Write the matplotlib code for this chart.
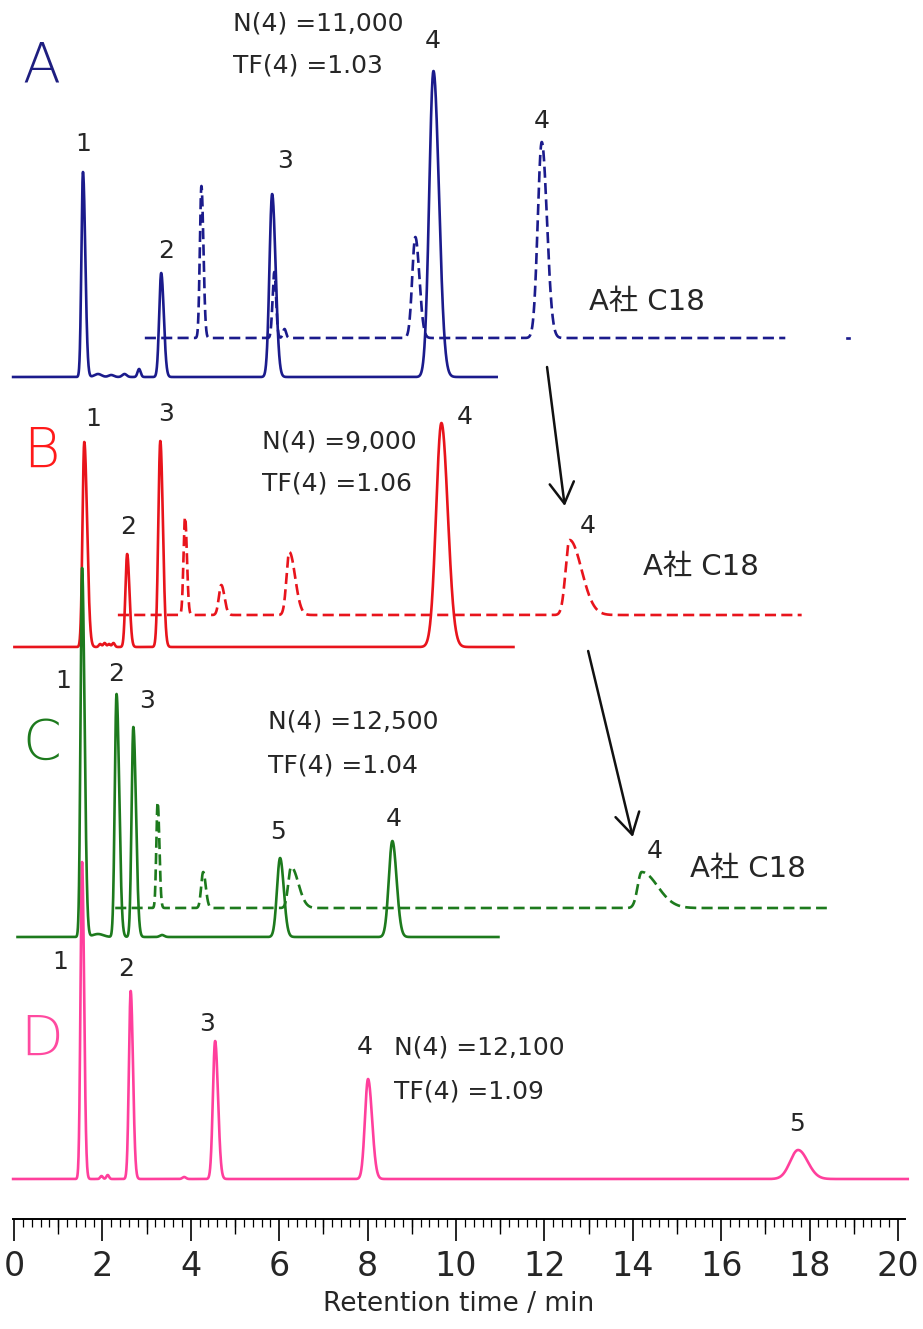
import numpy as np
import matplotlib
matplotlib.use("Agg")
import matplotlib.pyplot as plt
from matplotlib.ticker import MultipleLocator

# ---- peak tables (time min, height, sigma, tailing) ----
A_TIMES = [1.56, 1.9, 2.2, 2.50, 2.83, 3.33, 5.84, 9.49]
A_HEIGHTS = [205, 3, 2, 3, 8, 104, 183, 306]
A_WIDTHS = [0.035, 0.08, 0.06, 0.05, 0.035, 0.045, 0.06, 0.095]
A_TAILS = [1.5, 1.0, 1.0, 1.0, 1.0, 1.3, 1.3, 1.3]

A2_TIMES = [4.24, 5.89, 6.12, 9.08, 11.94]
A2_HEIGHTS = [152, 66, 9, 101, 196]
A2_WIDTHS = [0.035, 0.04, 0.035, 0.07, 0.09]
A2_TAILS = [1.3, 1.0, 1.0, 1.3, 1.3]

B_TIMES = [1.59, 1.95, 2.05, 2.15, 2.25, 2.56, 3.31, 9.67]
B_HEIGHTS = [205, 3, 4, 3, 4, 93, 206, 224]
B_WIDTHS = [0.04, 0.03, 0.03, 0.03, 0.03, 0.04, 0.045, 0.12]
B_TAILS = [1.6, 1.0, 1.0, 1.0, 1.0, 1.3, 1.3, 1.2]

B2_TIMES = [3.87, 4.69, 6.23, 12.57]
B2_HEIGHTS = [98, 30, 63, 75]
B2_WIDTHS = [0.035, 0.055, 0.065, 0.09]
B2_TAILS = [1.2, 1.3, 2.0, 3.0]

C_TIMES = [1.54, 1.9, 2.32, 2.70, 3.35, 6.02, 8.56]
C_HEIGHTS = [369, 3, 243, 210, 2, 79, 96]
C_WIDTHS = [0.035, 0.12, 0.04, 0.04, 0.05, 0.07, 0.08]
C_TAILS = [1.6, 1.0, 1.5, 1.5, 1.0, 1.2, 1.2]

C2_TIMES = [3.25, 4.28, 6.27, 14.2]
C2_HEIGHTS = [106, 36, 41, 36]
C2_WIDTHS = [0.03, 0.045, 0.065, 0.09]
C2_TAILS = [1.3, 1.3, 2.5, 4.0]

D_TIMES = [1.54, 1.98, 2.12, 2.64, 3.85, 4.55, 8.01, 17.74]
D_HEIGHTS = [317, 3, 4, 188, 2, 138, 100, 29]
D_WIDTHS = [0.035, 0.03, 0.03, 0.04, 0.04, 0.05, 0.07, 0.18]
D_TAILS = [1.3, 1.0, 1.0, 1.3, 1.0, 1.3, 1.3, 1.2]

# run ranges (min)
A_RANGE = (-0.05, 10.95)
A2_RANGE = (2.96, 17.45)
B_RANGE = (-0.02, 11.33)
B2_RANGE = (2.35, 17.82)
C_RANGE = (0.05, 10.99)
C2_RANGE = (2.29, 18.39)
D_RANGE = (-0.05, 20.25)

N_TEXT = ["N(4) =11,000", "N(4) =9,000", "N(4) =12,500", "N(4) =12,100"]
TF_TEXT = ["TF(4) =1.03", "TF(4) =1.06", "TF(4) =1.04", "TF(4) =1.09"]
PANELS = ["A", "B", "C", "D"]
COLUMN = "A社 C18"

# ---- layout ----
BASE = {"A": 842, "A2": 881, "B": 572, "B2": 604, "C": 282, "C2": 311, "D": 40}
COLORS = {"A": "#1b1b8c", "B": "#e8141c", "C": "#1d7a1d", "D": "#ff3f9c"}
LETTER_COLORS = {"A": "#1e1e80", "B": "#ff1a1a", "C": "#1d7a1d", "D": "#ff4aa0"}
TXT = "#262626"


def trace(rng, times, heights, widths, tails, base):
    t = np.linspace(rng[0], rng[1], 6000)
    y = np.zeros_like(t)
    for t0, h, s, k in zip(times, heights, widths, tails):
        sig = np.where(t < t0, s, s * k)
        y += h * np.exp(-0.5 * ((t - t0) / sig) ** 2)
    return t, y + base


plt.rcParams["font.family"] = ["DejaVu Sans", "Noto Sans CJK JP"]
fig = plt.figure(figsize=(9.23, 13.29), dpi=100)
px = 44.2
x0 = 14.0
xmin, xmax = -0.03, 20.15
ax = fig.add_axes([(x0 + xmin * px) / 923, 110 / 1329, (xmax - xmin) * px / 923, 1219 / 1329])
ax.set_xlim(xmin, xmax)
ax.set_ylim(0, 1219)

solid_kw = dict(lw=1.9, solid_capstyle="butt", clip_on=False)
dash_kw = dict(lw=1.9, dashes=(4.2, 2.0), clip_on=False)

ax.plot(*trace(D_RANGE, D_TIMES, D_HEIGHTS, D_WIDTHS, D_TAILS, BASE["D"]), color=COLORS["D"], zorder=2, **solid_kw)
ax.plot(*trace(B_RANGE, B_TIMES, B_HEIGHTS, B_WIDTHS, B_TAILS, BASE["B"]), color=COLORS["B"], zorder=3, **solid_kw)
ax.plot(*trace(B2_RANGE, B2_TIMES, B2_HEIGHTS, B2_WIDTHS, B2_TAILS, BASE["B2"]), color=COLORS["B"], zorder=3, **dash_kw)
ax.plot(*trace(C_RANGE, C_TIMES, C_HEIGHTS, C_WIDTHS, C_TAILS, BASE["C"]), color=COLORS["C"], zorder=4, **solid_kw)
ax.plot(*trace(C2_RANGE, C2_TIMES, C2_HEIGHTS, C2_WIDTHS, C2_TAILS, BASE["C2"]), color=COLORS["C"], zorder=4, **dash_kw)
ax.plot(*trace(A_RANGE, A_TIMES, A_HEIGHTS, A_WIDTHS, A_TAILS, BASE["A"]), color=COLORS["A"], zorder=3, **solid_kw)
ax.plot(*trace(A2_RANGE, A2_TIMES, A2_HEIGHTS, A2_WIDTHS, A2_TAILS, BASE["A2"]), color=COLORS["A"], zorder=3, **dash_kw)
ax.plot([18.84, 18.9], [BASE["A2"], BASE["A2"]], color=COLORS["A"], lw=1.9)

# panel letters
for name, yy in zip(PANELS, [1152, 767, 475, 179]):
    ax.text(0.62, yy, name, color=LETTER_COLORS[name], fontsize=40, ha="center", va="center",
            fontweight="light")

# N / TF blocks
for (tx, yn, yt), n, tf in zip([(4.95, 1195, 1153), (5.61, 777, 735), (5.75, 497, 453), (8.6, 172, 127)],
                               N_TEXT, TF_TEXT):
    ax.text(tx, yn, n, fontsize=18, color=TXT, va="center", ha="left")
    ax.text(tx, yt, tf, fontsize=18, color=TXT, va="center", ha="left")

# peak numbers
peak_labels = [
    (1.56, 1075, "1"), (3.44, 968, "2"), (6.13, 1058, "3"), (9.48, 1178, "4"), (11.95, 1098, "4"),
    (1.79, 800, "1"), (2.58, 692, "2"), (3.44, 805, "3"), (10.2, 802, "4"), (12.99, 693, "4"),
    (1.11, 538, "1"), (2.31, 545, "2"), (3.01, 518, "3"), (5.97, 387, "5"), (8.6, 400, "4"), (14.5, 368, "4"),
    (1.04, 257, "1"), (2.53, 250, "2"), (4.37, 195, "3"), (7.94, 172, "4"), (17.71, 95, "5"),
]
for tx, yy, s in peak_labels:
    ax.text(tx, yy, s, fontsize=18, color=TXT, ha="center", va="center")

# column labels
for tx, yy in [(13.01, 917), (14.23, 652), (15.29, 350)]:
    ax.text(tx, yy, COLUMN, fontsize=21, color=TXT, ha="left", va="center")

# arrows
arrow_kw = dict(arrowstyle="->,head_length=0.6,head_width=0.35", color="#111111", lw=1.8, mutation_scale=25,
                shrinkA=0, shrinkB=0)
ax.annotate("", xy=(12.46, 713), xytext=(12.06, 852), arrowprops=arrow_kw)
ax.annotate("", xy=(14.0, 382), xytext=(12.99, 568), arrowprops=arrow_kw)

# axis styling
for side in ["left", "right", "top"]:
    ax.spines[side].set_visible(False)
ax.spines["bottom"].set_linewidth(1.4)
ax.set_yticks([])
ax.set_xticks(np.arange(0, 21, 2))
ax.xaxis.set_minor_locator(MultipleLocator(0.2))
ax.tick_params(axis="x", which="major", direction="out", length=16, width=1.2, pad=6,
               labelsize=24, labelcolor=TXT, labelfontfamily="Liberation Sans Narrow")
ax.tick_params(axis="x", which="minor", direction="out", length=6, width=0.9)

sec = ax.secondary_xaxis("bottom")
sec.set_xticks(np.arange(1, 20, 2), labels=[])
sec.tick_params(direction="out", length=11, width=1.0)
sec.spines["bottom"].set_visible(False)

ax.set_xlabel("Retention time / min", fontsize=19, color=TXT, labelpad=6)

fig.savefig("out.png", dpi=100)
